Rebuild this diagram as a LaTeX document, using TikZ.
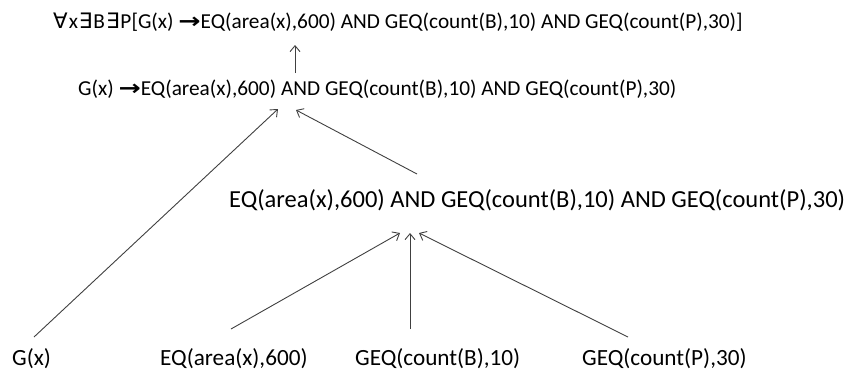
\documentclass[tikz,border=0pt]{standalone}
\usepackage{fontspec}
\usepackage{graphicx}
\setmainfont{Carlito}
\newfontfamily\symfont{DejaVu Sans}
\usetikzlibrary{arrows.meta}
\newcommand{\impl}{\scalebox{1.25}[1]{\symfont\bfseries →}}
\begin{document}
\begin{tikzpicture}[x=1pt,y=-1pt,
  lbl/.style={inner sep=0pt,anchor=base west,font=\fontsize{21.3}{24}\selectfont},
  big/.style={lbl,font=\fontsize{24.5}{28}\selectfont},
  leaf/.style={lbl,font=\fontsize{23.2}{26}\selectfont},
  arr/.style={draw=black!75,line width=0.9pt,-{Straight Barb[length=6pt,width=10pt,line width=0.9pt]}}]
\useasboundingbox (0,0) rectangle (848,370);
\node[lbl] (top) at (53,28) {{\symfont ∀}\kern1pt x\kern1pt{\symfont ∃}\kern1pt B\kern1pt{\symfont ∃}\kern1pt P[G(x) \impl EQ(area(x),600) AND GEQ(count(B),10) AND GEQ(count(P),30)]};
\node[lbl] (mid) at (78,95) {G(x) \impl EQ(area(x),600) AND GEQ(count(B),10) AND GEQ(count(P),30)};
\node[big] (and3) at (229,207) {EQ(area(x),600) AND GEQ(count(B),10) AND GEQ(count(P),30)};
\node[leaf] (gx) at (12,365) {G(x)};
\node[leaf] (eq) at (160,365) {EQ(area(x),600)};
\node[leaf] (geqb) at (355,365) {GEQ(count(B),10)};
\node[leaf] (geqp) at (582,365) {GEQ(count(P),30)};
\draw[arr] ([xshift=217pt,yshift=22pt]mid.base west) -- ([xshift=242pt,yshift=-17pt]top.base west);
\draw[arr] ([xshift=22pt,yshift=28pt]gx.base west) -- ([xshift=200pt,yshift=-14pt]mid.base west);
\draw[arr] ([xshift=188pt,yshift=33pt]and3.base west) -- ([xshift=218pt,yshift=-15pt]mid.base west);
\draw[arr] ([xshift=71pt,yshift=36pt]eq.base west) -- ([xshift=171pt,yshift=-26pt]and3.base west);
\draw[arr] ([xshift=55pt,yshift=36pt]geqb.base west) -- ([xshift=181pt,yshift=-26pt]and3.base west);
\draw[arr] ([xshift=46pt,yshift=28pt]geqp.base west) -- ([xshift=190pt,yshift=-26pt]and3.base west);
\end{tikzpicture}
\end{document}
